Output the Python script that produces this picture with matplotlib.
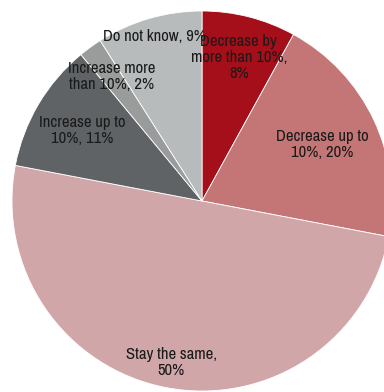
import numpy as np
import matplotlib.pyplot as plt
from matplotlib import font_manager

labels = ['Decrease by\nmore than 10%,\n8%', 'Decrease up to\n10%, 20%', 'Stay the same,\n50%',
          'Increase up to\n10%, 11%', 'Increase more\nthan 10%, 2%', 'Do not know, 9%']
shares = [8, 20, 50, 11, 2, 9]
colors = ['#A50F1A', '#C47676', '#D0A6A8', '#5F6366', '#9A9C9C', '#B8BBBB']
# how far out along the wedge each label sits (fraction of radius)
label_r = [0.78, 0.70, 0.865, 0.73, 0.81, 0.90]


def pick_font(candidates):
    files = {f.fname.split('/')[-1]: f.fname for f in font_manager.fontManager.ttflist}
    for c in candidates:
        if c in files:
            return files[c]
    return None


font_file = pick_font(['LiberationSansNarrow-Regular.ttf', 'ArchivoNarrow[wght].ttf',
                       'DejaVuSansCondensed.ttf'])
if font_file:
    fp = font_manager.FontProperties(fname=font_file, size=12)
else:
    fp = font_manager.FontProperties(size=10)

fig = plt.figure(figsize=(3.84, 3.92), dpi=100)
ax = fig.add_axes([0, 0, 1, 1])

wedges, _ = ax.pie(shares, colors=colors, startangle=90, counterclock=False,
                   radius=1.0, wedgeprops=dict(edgecolor='white', linewidth=0.6))

for w, lab, r in zip(wedges, labels, label_r):
    mid = np.deg2rad((w.theta1 + w.theta2) / 2)
    ax.text(r * np.cos(mid), r * np.sin(mid), lab, ha='center', va='center',
            color='#1a1a1a', linespacing=1.12, fontproperties=fp)

ax.set_xlim(-202 / 190, 182 / 190)
ax.set_ylim(-191 / 190, 201 / 190)
ax.set_aspect('equal')
ax.axis('off')

fig.savefig('out.png', dpi=100)
